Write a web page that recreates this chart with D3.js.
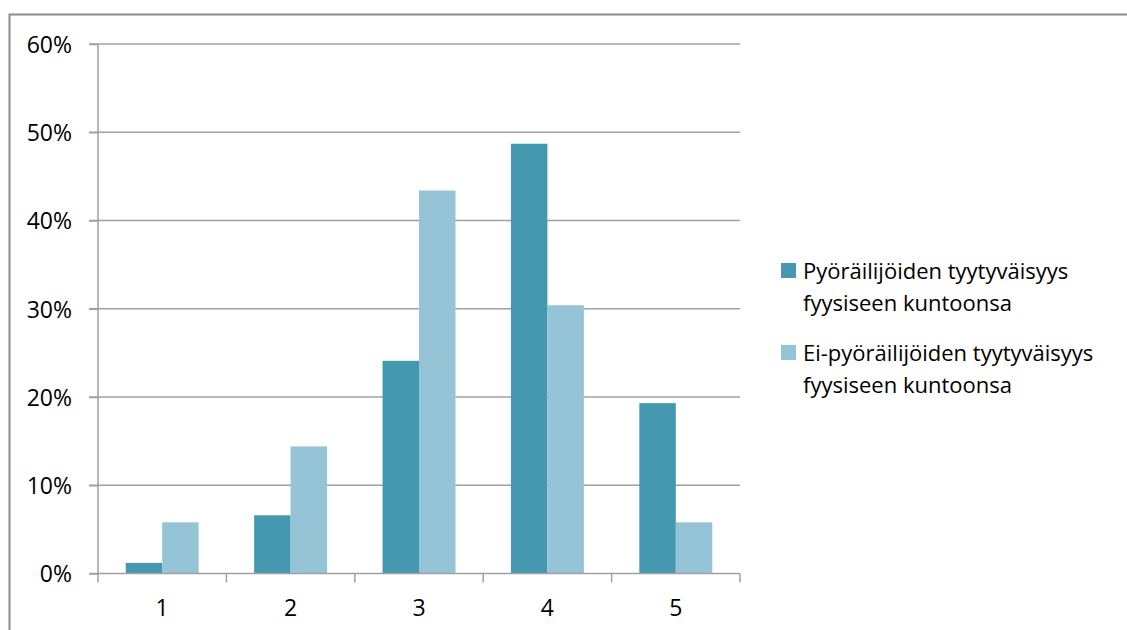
<!DOCTYPE html>
<meta charset="utf-8">
<style>
  body { margin: 0; background: #fff; }
  svg text { font-family: "Open Sans", sans-serif; fill: #000; }
</style>
<body>
<script src="https://cdn.jsdelivr.net/npm/d3@7"></script>
<script>

// chart data
var categories = ["1", "2", "3", "4", "5"];
var seriesNames = ["Pyöräilijöiden tyytyväisyys fyysiseen kuntoonsa",
                   "Ei-pyöräilijöiden tyytyväisyys fyysiseen kuntoonsa"];
var cyclists    = [0.012, 0.066, 0.241, 0.487, 0.193];
var nonCyclists = [0.058, 0.144, 0.434, 0.304, 0.058];
var yTicks = [0, 0.1, 0.2, 0.3, 0.4, 0.5, 0.6];
var colors = ["#4499b0", "#95c4d6"];

var W = 1127, H = 630;
var plot = {left: 98, right: 740, top: 44, bottom: 573.5};

var svg = d3.select("body").append("svg")
    .attr("width", W)
    .attr("height", H);

// outer frame
svg.append("rect")
    .attr("x", 9.5).attr("y", 14.5)
    .attr("width", W).attr("height", H)
    .attr("fill", "none")
    .attr("stroke", "#8c8c8c")
    .attr("stroke-width", 2);

var x0 = d3.scaleBand().domain(categories).range([plot.left, plot.right]);
var x1 = d3.scaleBand().domain([0, 1]).range([0, x0.bandwidth()]).paddingInner(0).paddingOuter(0.76);
var y = d3.scaleLinear().domain([0, 0.6]).range([plot.bottom, plot.top]);

// gridlines
svg.append("g").selectAll("line")
    .data(yTicks.slice(1))
  .enter().append("line")
    .attr("x1", plot.left - 9).attr("x2", plot.right)
    .attr("y1", function(d) { return y(d); })
    .attr("y2", function(d) { return y(d); })
    .attr("stroke", "#a0a0a0")
    .attr("stroke-width", 1.5);

// bars
var rows = categories.map(function(c, i) { return {cat: c, vals: [cyclists[i], nonCyclists[i]]}; });
svg.append("g").selectAll("g")
    .data(rows)
  .enter().append("g")
    .attr("transform", function(d) { return "translate(" + x0(d.cat) + ",0)"; })
  .selectAll("rect")
    .data(function(d) { return d.vals; })
  .enter().append("rect")
    .attr("x", function(d, i) { return x1(i); })
    .attr("width", x1.bandwidth())
    .attr("y", function(d) { return y(d); })
    .attr("height", function(d) { return y(0) - y(d); })
    .attr("fill", function(d, i) { return colors[i]; });

// y axis
var yAxis = svg.append("g")
    .attr("transform", "translate(" + plot.left + ",0)")
    .call(d3.axisLeft(y).tickValues(yTicks).tickFormat(d3.format(".0%")).tickSize(9).tickPadding(17));
yAxis.selectAll("line, path").attr("stroke", "#a0a0a0").attr("stroke-width", 1.5);
yAxis.select(".domain").attr("d", "M0," + plot.top + "V" + plot.bottom);
yAxis.selectAll("text").style("font-size", "23px").attr("fill", "#000").attr("dy", "0.36em");

// x axis
var xAxis = svg.append("g")
    .attr("transform", "translate(0," + plot.bottom + ")")
    .call(d3.axisBottom(x0).tickSize(0));
xAxis.select(".domain").attr("d", "M" + (plot.left - 9) + ",0H" + plot.right)
    .attr("stroke", "#a0a0a0").attr("stroke-width", 1.5);
xAxis.selectAll("text").style("font-size", "23px").attr("fill", "#000")
    .attr("y", 42).attr("dy", 0);
xAxis.selectAll(".sep")
    .data(categories.concat(["end"]))
  .enter().append("line")
    .attr("x1", function(d, i) { return i < categories.length ? x0(d) : plot.right; })
    .attr("x2", function(d, i) { return i < categories.length ? x0(d) : plot.right; })
    .attr("y1", 0).attr("y2", 9)
    .attr("stroke", "#a0a0a0").attr("stroke-width", 1.5);

// legend
var legend = svg.append("g").selectAll("g")
    .data(seriesNames)
  .enter().append("g")
    .attr("transform", function(d, i) { return "translate(781," + (263 + i * 82) + ")"; });
legend.append("rect")
    .attr("width", 15).attr("height", 15)
    .attr("fill", function(d, i) { return colors[i]; });
legend.append("text")
    .style("font-size", "22px")
    .each(function(d) {
      var words = d.split(" ");
      var t = d3.select(this);
      t.append("tspan").attr("x", 22).attr("y", 16).text(words.slice(0, 2).join(" "));
      t.append("tspan").attr("x", 22).attr("y", 48).text(words.slice(2).join(" "));
    });

</script>
</body>
